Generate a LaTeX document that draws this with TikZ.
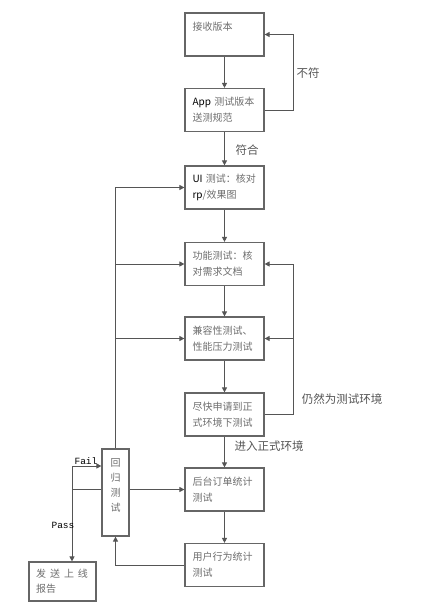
\documentclass[tikz,border=0pt]{standalone}
\usepackage{fontspec}
\setmainfont{Noto Sans CJK SC}
\newfontfamily\monofam{Liberation Mono}
\usetikzlibrary{arrows.meta,calc}
\definecolor{txtgray}{HTML}{6E6E6E}
\definecolor{linegray}{HTML}{555555}
\definecolor{boxgray}{HTML}{666666}
\newcommand\blk[1]{\textcolor{black}{#1}}
\tikzset{
  stepbox/.style={draw=boxgray, line width=1.2pt, fill=white, minimum width=79pt, minimum height=43pt,
    text width=64pt, inner xsep=7.5pt, align=left, text=txtgray,
    font=\fontsize{10pt}{16pt}\selectfont},
  regbox/.style={draw=boxgray, line width=1.2pt, minimum width=27pt, minimum height=87pt,
    inner xsep=0pt, align=center, text=txtgray, font=\fontsize{10pt}{15pt}\selectfont},
  endbox/.style={draw=boxgray, line width=1.2pt, minimum width=67pt, minimum height=39pt,
    text width=53pt, inner xsep=7pt, align=left, text=txtgray, font=\fontsize{10pt}{15pt}\selectfont},
  conn/.style={draw=linegray, line width=1pt},
  arr/.style={conn, -{Triangle[length=5pt,width=5pt]}},
  lbl/.style={text=linegray, font=\fontsize{11.5pt}{13pt}\selectfont, inner sep=0pt},
  mlbl/.style={text=black, font=\monofam\fontsize{9.5pt}{11pt}\selectfont, inner sep=0pt},
}
\begin{document}
\begin{tikzpicture}[x=1pt,y=-1pt]
\useasboundingbox (0,0) rectangle (431,611);
\fill[white] (0,0) rectangle (431,611);

\node[stepbox] (b1) at (224.5,34.5) {接收版本\\ \mbox{}};
\node[stepbox] (b2) at (224.5,110) {\blk{App} 测试版本\\送测规范};
\node[stepbox] (b3) at (224.5,187.5) {\blk{UI} 测试：核对\\\blk{rp}/效果图};
\node[stepbox] (b4) at (224.5,264) {功能测试：核\\对需求文档};
\node[stepbox] (b5) at (224.5,338.5) {兼容性测试、\\性能压力测试};
\node[stepbox] (b6) at (224.5,414.5) {尽快申请到正\\式环境下测试};
\node[stepbox] (b7) at (224.5,489.5) {后台订单统计\\测试};
\node[stepbox] (b8) at (224.5,565) {用户行为统计\\测试};
\node[regbox] (reg) at (115.5,492.5) {回\\归\\测\\试\\ \mbox{}};
\node[endbox] (b9) at (62.5,581.5) {\makebox[52pt][s]{发\hfill 送\hfill 上\hfill 线}\\报告};

\coordinate (rx) at (293,0);
\coordinate (fx) at (72,466);

% main chain
\draw[arr] (b1) -- (b2);
\draw[arr] (b2) -- (b3);
\draw[arr] (b3) -- (b4);
\draw[arr] (b4) -- (b5);
\draw[arr] (b5) -- (b6);
\draw[arr] (b6) -- (b7);
\draw[arr] (b7) -- (b8);

% not matching
\draw[arr] (b2.east) -- (b2.east -| rx) |- (b1.east);
\node[lbl] (l1) at (308,73) {不符};
\node[lbl] (l2) at (247,150) {符合};

% still test environment
\draw[arr] (b6.east) -- (b6.east -| rx) |- (b4.east);
\draw[arr] (b5.east -| rx) -- (b5.east);
\node[lbl] (l3) at (342,399) {仍然为测试环境};
\node[lbl] (l4) at (269,446) {进入正式环境};

% regression loop
\draw[arr] (reg.north) |- (b3.west);
\draw[arr] (reg.north |- b4.west) -- (b4.west);
\draw[arr] (reg.north |- b5.west) -- (b5.west);
\draw[arr] (reg.east |- b7.west) -- (b7.west);
\draw[arr] (b8.west) -| (reg.south);

% fail / pass
\draw[conn] (reg.west |- b7.west) -- (fx |- b7.west);
\draw[arr] (fx) -- (fx -| reg.west);
\draw[arr] (fx) -- (fx |- b9.north);
\node[mlbl] (fail) at (86,461) {Fail};
\node[mlbl] (pass) at (63,525) {Pass};
\end{tikzpicture}
\end{document}
